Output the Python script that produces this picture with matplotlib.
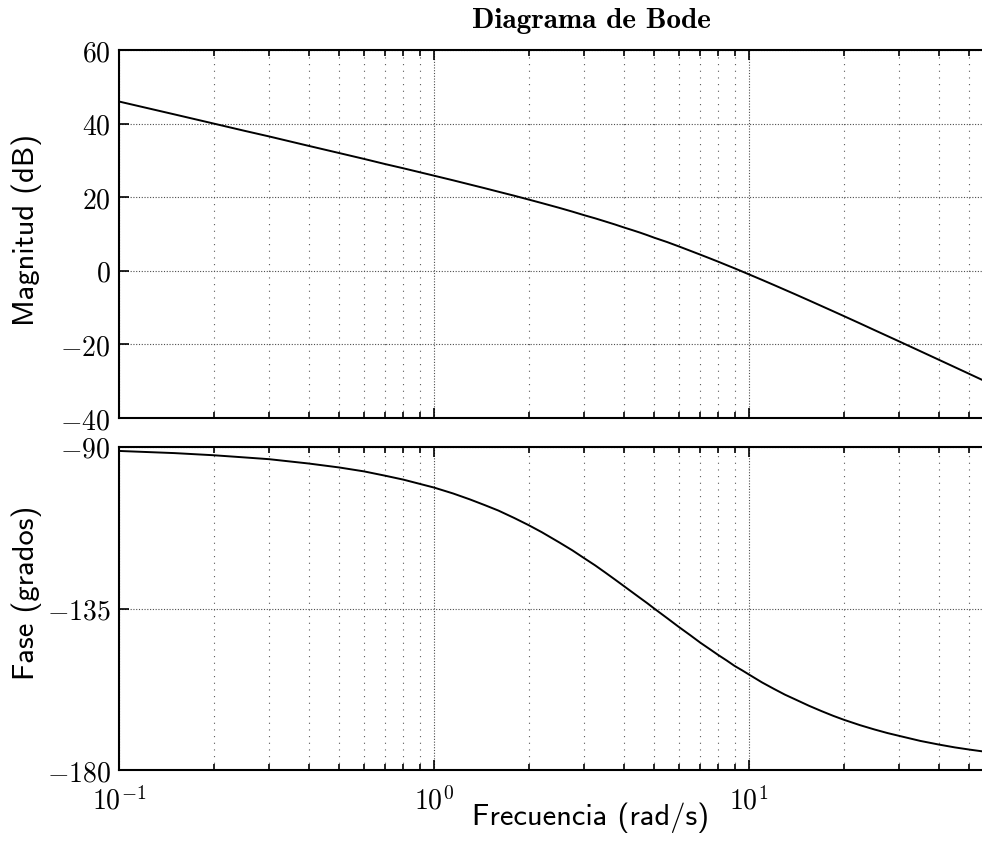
import numpy as np
import matplotlib
matplotlib.use("Agg")
import matplotlib.pyplot as plt
from matplotlib.ticker import FixedLocator, FixedFormatter, LogLocator, NullFormatter

plt.rcParams['mathtext.fontset'] = 'cm'

# ---- data ----
freq = [0.1, 0.15, 0.2, 0.25, 0.3, 0.4, 0.5, 0.6, 0.7, 0.8, 1, 1.15, 1.3, 1.45, 1.6,
        1.8, 2, 2.2, 2.5, 2.75, 3, 3.25, 3.5, 3.75, 4, 4.25, 4.5, 4.75, 5, 5.5, 6,
        6.5, 7, 7.5, 8, 8.5, 9, 9.5, 10, 11, 12, 13, 14, 15.5, 17, 18.5, 20, 22.5,
        25, 27.5, 30, 35, 40, 45, 50, 55, 60]
magnitude_db = [46.0, 42.5, 40.0, 38.05, 36.5, 33.95, 32.0, 30.4, 29.0, 27.85, 25.85,
                24.59, 23.45, 22.44, 21.5, 20.39, 19.35, 18.4, 17.1, 16.08, 15.1, 14.25,
                13.4, 12.6, 11.8, 11.09, 10.4, 9.7, 9.0, 7.8, 6.6, 5.46, 4.4, 3.4, 2.45,
                1.53, 0.67, -0.17, -0.97, -2.47, -3.86, -5.16, -6.36, -8.04, -9.58,
                -10.99, -12.3, -14.29, -16.1, -17.72, -19.2, -21.85, -24.15, -26.18,
                -28.0, -29.65, -31.15]
phase_deg = [-91.1, -91.7, -92.3, -92.9, -93.4, -94.6, -95.7, -96.8, -98.0, -99.1,
             -101.3, -102.95, -104.6, -106.2, -107.7, -109.8, -111.8, -113.75, -116.6,
             -118.8, -121.0, -123.0, -125.0, -126.9, -128.7, -130.4, -132.0, -133.5,
             -135.0, -137.7, -140.2, -142.4, -144.5, -146.3, -148.0, -149.5, -151.0,
             -152.2, -153.4, -155.6, -157.4, -159.0, -160.3, -162.1, -163.6, -164.9,
             -166.0, -167.5, -168.7, -169.7, -170.5, -171.9, -172.9, -173.7, -174.3,
             -174.8, -175.2]

mag_ticks = [-40, -20, 0, 20, 40, 60]
mag_tick_labels = [r'$-40$', r'$-20$', r'$0$', r'$20$', r'$40$', r'$60$']
phase_ticks = [-180, -135, -90]
phase_tick_labels = [r'$-180$', r'$-135$', r'$-90$']
x_ticks = [0.1, 1, 10]
x_tick_labels = [r'$10^{-1}$', r'$10^{0}$', r'$10^{1}$']

title = 'Diagrama de Bode'
ylabel_mag = 'Magnitud (dB)'
ylabel_phase = 'Fase (grados)'
xlabel = 'Frecuencia (rad/s)'

W, H = 982, 848
fig = plt.figure(figsize=(W / 100, H / 100), dpi=100)

left = 119 / W
width = (1064 - 119) / W
ax1 = fig.add_axes([left, 1 - 418 / H, width, 368 / H])
ax2 = fig.add_axes([left, 1 - 770 / H, width, 323 / H])

tick_fs = 20
label_fs = 22

for ax in (ax1, ax2):
    ax.set_xscale('log')
    ax.set_xlim(0.1, 100)
    ax.xaxis.set_major_locator(FixedLocator(x_ticks))
    ax.xaxis.set_minor_locator(LogLocator(base=10, subs=np.arange(2, 10), numticks=20))
    ax.xaxis.set_minor_formatter(NullFormatter())
    ax.grid(True, which='major', linestyle=(0, (1, 1.5)), color='0.3', linewidth=0.8)
    ax.grid(True, which='minor', axis='x', linestyle=(0, (1, 5)), color='0.35', linewidth=0.8)
    ax.tick_params(which='both', direction='in', top=True, right=True,
                   labelsize=tick_fs, width=1.2, pad=6)
    ax.tick_params(which='major', length=7)
    ax.tick_params(which='minor', length=4)
    for s in ax.spines.values():
        s.set_linewidth(1.5)
        s.set_color('black')

ax1.plot(freq, magnitude_db, color='black', linewidth=1.4)
ax1.set_ylim(-40, 60)
ax1.yaxis.set_major_locator(FixedLocator(mag_ticks))
ax1.yaxis.set_major_formatter(FixedFormatter(mag_tick_labels))
ax1.xaxis.set_major_formatter(NullFormatter())

ax2.plot(freq, phase_deg, color='black', linewidth=1.4)
ax2.set_ylim(-180, -90)
ax2.yaxis.set_major_locator(FixedLocator(phase_ticks))
ax2.yaxis.set_major_formatter(FixedFormatter(phase_tick_labels))
ax2.xaxis.set_major_formatter(FixedFormatter(x_tick_labels))
ax2.tick_params(axis='x', pad=12)

fig.text(591 / W, 1 - 21 / H, title, fontfamily='cmb10', fontsize=21,
         ha='center', va='center')
ax1.set_ylabel(ylabel_mag, fontfamily='cmss10', fontsize=label_fs)
ax2.set_ylabel(ylabel_phase, fontfamily='cmss10', fontsize=label_fs)
ax2.set_xlabel(xlabel, fontfamily='cmss10', fontsize=label_fs)
ax1.yaxis.set_label_coords(27 / W, 1 - 230 / H, transform=fig.transFigure)
ax2.yaxis.set_label_coords(27 / W, 1 - 593 / H, transform=fig.transFigure)
ax2.xaxis.set_label_coords(591 / W, 1 - 818 / H, transform=fig.transFigure)
ax2.xaxis.label.set_va('center')
ax1.yaxis.label.set_va('center')
ax2.yaxis.label.set_va('center')

fig.savefig('out.png', dpi=100)
